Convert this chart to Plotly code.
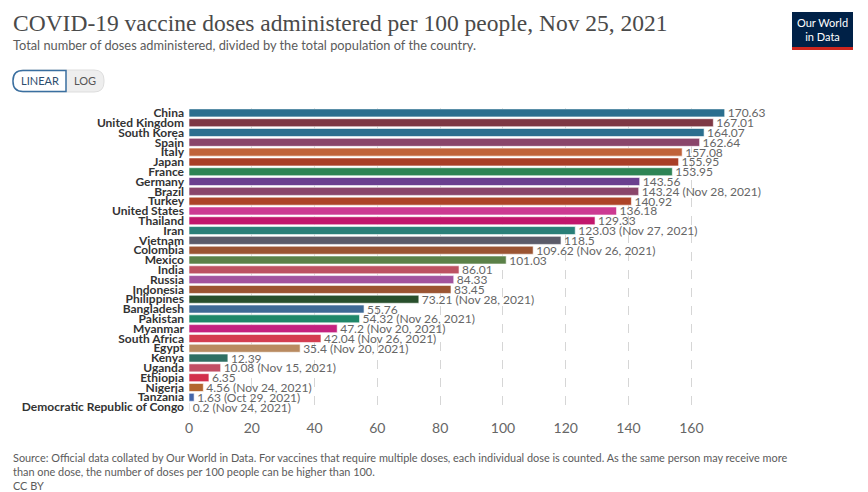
import plotly.graph_objects as go

countries = ["China", "United Kingdom", "South Korea", "Spain", "Italy", "Japan", "France",
             "Germany", "Brazil", "Turkey", "United States", "Thailand", "Iran", "Vietnam",
             "Colombia", "Mexico", "India", "Russia", "Indonesia", "Philippines", "Bangladesh",
             "Pakistan", "Myanmar", "South Africa", "Egypt", "Kenya", "Uganda", "Ethiopia",
             "Nigeria", "Tanzania", "Democratic Republic of Congo"]
values = [170.63, 167.01, 164.07, 162.64, 157.08, 155.95, 153.95,
          143.56, 143.24, 140.92, 136.18, 129.33, 123.03, 118.5,
          109.62, 101.03, 86.01, 84.33, 83.45, 73.21, 55.76,
          54.32, 47.2, 42.04, 35.4, 12.39, 10.08, 6.35,
          4.56, 1.63, 0.2]
dates = ["", "", "", "", "", "", "",
         "", "Nov 28, 2021", "", "", "", "Nov 27, 2021", "",
         "Nov 26, 2021", "", "", "", "", "Nov 28, 2021", "",
         "Nov 26, 2021", "Nov 20, 2021", "Nov 26, 2021", "Nov 20, 2021", "", "Nov 15, 2021", "",
         "Nov 24, 2021", "Oct 29, 2021", "Nov 24, 2021"]
colors = ["#2b6f8f", "#7e3845", "#2b6f8f", "#8a456a", "#c0633a", "#a93f27", "#2e8455",
          "#6b3f8f", "#8a456a", "#ad4327", "#cc3a92", "#c1166c", "#2a7f78", "#5b5b69",
          "#9b5432", "#5b8148", "#bd5262", "#a2549e", "#9b5432", "#284f2c", "#3f6a95",
          "#1f8769", "#c4227f", "#d43c50", "#b98a60", "#2f6f63", "#c24f65", "#d32f4b",
          "#b3662e", "#4466aa", "#8a8a9a"]
x_ticks = [0, 20, 40, 60, 80, 100, 120, 140, 160]

labels = [f"{v:g}" + (f" ({d})" if d else "") for v, d in zip(values, dates)]

L, R, T, B = 189, 139, 108, 80
W = 868 - L - R
H = 492 - T - B


def px(x):
    return (x - L) / W


def py(y):
    return 1 - (y - T) / H


def rounded(x0, y0, x1, y1, rl, rr):
    # rounded rectangle path in paper coords, pixel inputs (y downward)
    pts = [
        f"M {px(x0 + rl)} {py(y0)}",
        f"L {px(x1 - rr)} {py(y0)}",
        f"Q {px(x1)} {py(y0)} {px(x1)} {py(y0 + rr)}",
        f"L {px(x1)} {py(y1 - rr)}",
        f"Q {px(x1)} {py(y1)} {px(x1 - rr)} {py(y1)}",
        f"L {px(x0 + rl)} {py(y1)}",
        f"Q {px(x0)} {py(y1)} {px(x0)} {py(y1 - rl)}",
        f"L {px(x0)} {py(y0 + rl)}",
        f"Q {px(x0)} {py(y0)} {px(x0 + rl)} {py(y0)}",
        "Z",
    ]
    return " ".join(pts)


fig = go.Figure()
fig.add_trace(go.Bar(
    y=countries, x=values, orientation="h",
    marker=dict(color=colors, line=dict(color="white", width=0.6)),
    text=labels, textposition="outside", cliponaxis=False, constraintext="none",
    textfont=dict(family="Lato", size=12, color="#666666"),
    hoverinfo="skip",
))

fig.update_layout(
    width=868, height=492,
    margin=dict(l=L, r=R, t=T, b=B, autoexpand=False),
    paper_bgcolor="white", plot_bgcolor="white",
    bargap=0.18,
    showlegend=False,
    font=dict(family="Lato", color="#333"),
    xaxis=dict(range=[0, 172], tickvals=x_ticks, showgrid=True, gridcolor="#d6d6d6",
               griddash="dash", gridwidth=1, zeroline=False, showline=False,
               tickfont=dict(family="Lato", size=14, color="#666"), ticks="",
               ticklabelstandoff=6, automargin=False),
    yaxis=dict(autorange="reversed", showgrid=False, zeroline=False, ticks="",
               tickmode="array", tickvals=countries, ticktext=countries,
               tickfont=dict(family="Lato", size=12, color="#333", weight="bold"),
               ticklabelstandoff=4, automargin=False),
)

# Title & subtitle
fig.add_annotation(text="COVID-19 vaccine doses administered per 100 people, Nov 25, 2021",
                   xref="paper", yref="paper", x=px(11), y=py(23),
                   xanchor="left", yanchor="middle", showarrow=False,
                   font=dict(family="Liberation Serif", size=23.5, color="#4a4a4a"))
fig.add_annotation(text="Total number of doses administered, divided by the total population of the country.",
                   xref="paper", yref="paper", x=px(11), y=py(45),
                   xanchor="left", yanchor="middle", showarrow=False,
                   font=dict(family="Lato", size=12.8, color="#5b5b5b"))

# LINEAR / LOG toggle
fig.add_shape(type="path", xref="paper", yref="paper", path=rounded(13, 70, 104, 92, 10, 10),
              fillcolor="#eeeeee", line=dict(color="#dddddd", width=1), layer="above")
fig.add_shape(type="path", xref="paper", yref="paper", path=rounded(13, 70.5, 66, 91.5, 10, 0),
              fillcolor="white", line=dict(color="#3a6fa0", width=1.5), layer="above")
fig.add_annotation(text="LINEAR", xref="paper", yref="paper", x=px(40), y=py(81),
                   xanchor="center", yanchor="middle",
                   showarrow=False, font=dict(family="Lato", size=11, color="#2c4d6e"))
fig.add_annotation(text="LOG", xref="paper", yref="paper", x=px(85), y=py(81),
                   xanchor="center", yanchor="middle",
                   showarrow=False, font=dict(family="Lato", size=11, color="#555"))

# Logo
fig.add_shape(type="rect", xref="paper", yref="paper",
              x0=px(792), x1=px(853), y0=py(47), y1=py(12),
              fillcolor="#002147", line=dict(width=0), layer="above")
fig.add_shape(type="rect", xref="paper", yref="paper",
              x0=px(792), x1=px(853), y0=py(50), y1=py(47),
              fillcolor="#ce261e", line=dict(width=0), layer="above")
fig.add_annotation(text="Our World<br>in Data", xref="paper", yref="paper",
                   x=px(822.5), y=py(29.5), xanchor="center", yanchor="middle",
                   showarrow=False, align="center",
                   font=dict(family="Lato", size=11, color="white"))

# Footer
fig.add_annotation(text="Source: Official data collated by Our World in Data. For vaccines that require multiple doses, each individual dose is counted. As the same person may receive more<br>than one dose, the number of doses per 100 people can be higher than 100.<br>CC BY",
                   xref="paper", yref="paper", x=px(11), y=py(471),
                   xanchor="left", yanchor="middle", showarrow=False, align="left",
                   font=dict(family="Lato", size=10.9, color="#5b5b5b"))

fig.write_html("out.html", config={"displayModeBar": False},
               post_script="document.body.style.margin='0';")
